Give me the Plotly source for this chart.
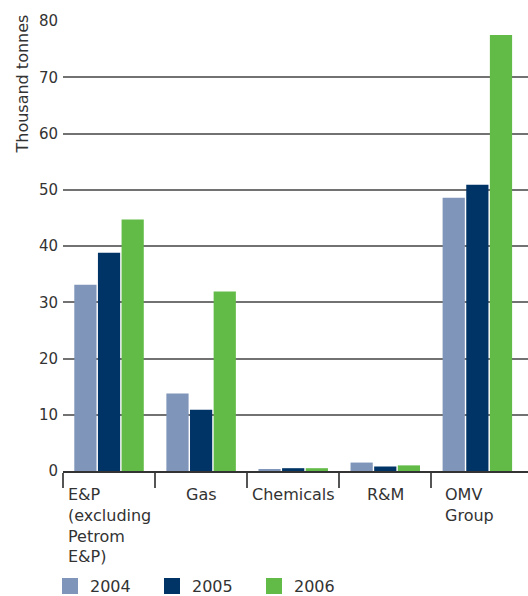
import plotly.graph_objects as go

# Emissions by business segment (thousand tonnes)
categories = ["E&P<br>(excluding<br>Petrom<br>E&P)", "Gas", "Chemicals", "R&M", "OMV<br>Group"]
years = ["2004", "2005", "2006"]
values_2004 = [33.1, 13.8, 0.3, 1.5, 48.6]
values_2005 = [38.8, 10.9, 0.5, 0.8, 50.9]
values_2006 = [44.7, 31.9, 0.5, 1.0, 77.5]
colors = ["#7f95b9", "#003366", "#62bb46"]

FONT = "DejaVu Sans, sans-serif"
TEXT = "#333333"

x_pos = list(range(len(categories)))

fig = go.Figure()
for name, vals, col in zip(years, [values_2004, values_2005, values_2006], colors):
    fig.add_trace(go.Bar(x=x_pos, y=vals, name=name, showlegend=False,
                         marker=dict(color=col, line=dict(width=0))))

# legend entries with larger square swatches
for name, col in zip(years, colors):
    fig.add_trace(go.Scatter(x=[None], y=[None], mode="markers", name=name,
                             marker=dict(symbol="square", size=16, color=col)))

# category labels under the axis
label_specs = [
    (-0.5, "left", 3),
    (1.0, "center", 0),
    (2.0, "center", 0),
    (3.0, "center", 0),
    (3.5, "left", 12),
]
annotations = []
for cat, (xv, anchor, shift) in zip(categories, label_specs):
    annotations.append(dict(
        x=xv, y=0, xref="x", yref="y", text=cat, showarrow=False,
        xanchor=anchor, yanchor="top", align="left", xshift=shift, yshift=-12,
        font=dict(family=FONT, size=16, color=TEXT),
    ))

# rotated axis title
annotations.append(dict(
    x=-41 / 465, y=1 + 8 / 450, xref="paper", yref="paper", text="Thousand tonnes",
    textangle=-90, showarrow=False, xanchor="center", yanchor="top",
    font=dict(family=FONT, size=16, color=TEXT),
))

fig.update_layout(
    width=528, height=596,
    margin=dict(l=63, r=0, t=21, b=125),
    paper_bgcolor="white", plot_bgcolor="white",
    barmode="group", bargap=0.23, bargroupgap=0.06,
    font=dict(family=FONT, color=TEXT),
    showlegend=True,
    legend=dict(
        orientation="h", x=50 / 528, y=0.045, xref="container", yref="container",
        xanchor="left", yanchor="top",
        entrywidth=57, entrywidthmode="pixels",
        font=dict(family=FONT, size=16, color=TEXT),
        itemclick=False, traceorder="normal",
    ),
    annotations=annotations,
)

fig.update_xaxes(
    range=[-0.5, 4.55], tickmode="array", tickvals=[-0.5, 0.5, 1.5, 2.5, 3.5],
    showticklabels=False, ticks="outside", ticklen=15, tickwidth=1.5, tickcolor="#555555",
    showline=True, linecolor="#333333", linewidth=2, showgrid=False, zeroline=False,
)
fig.update_yaxes(
    range=[0, 80], tickvals=[0, 10, 20, 30, 40, 50, 60, 70, 80],
    showgrid=True, gridcolor="#727272", gridwidth=1.5, zeroline=False, showline=False,
    ticks="", ticklabelstandoff=4, tickfont=dict(family=FONT, size=15, color=TEXT),
)

fig.write_html("out.html")
